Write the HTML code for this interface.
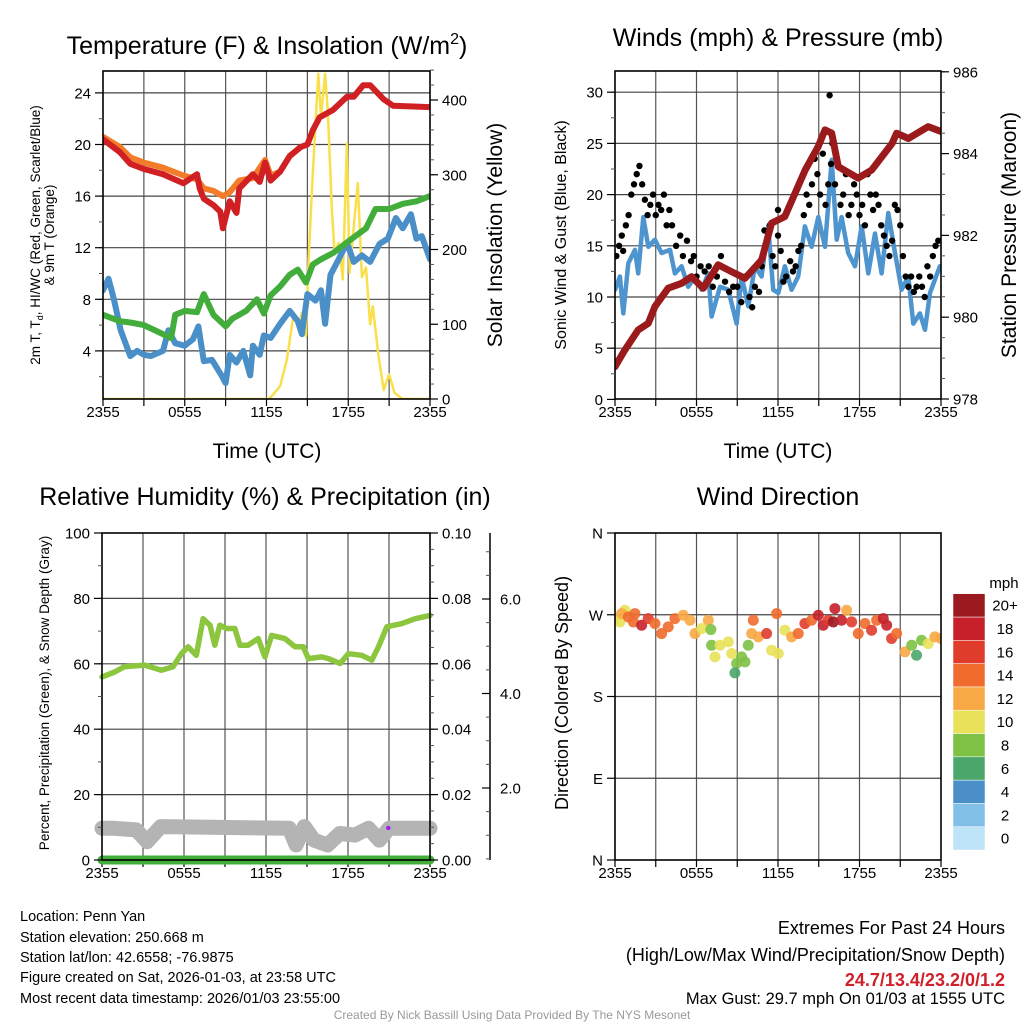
<!DOCTYPE html>
<html><head><meta charset="utf-8"><style>
html,body{margin:0;padding:0;background:#fff;}
svg{display:block;font-family:"Liberation Sans",sans-serif;}
</style></head><body>
<svg id="chart" width="1024" height="1024" viewBox="0 0 1024 1024" xmlns="http://www.w3.org/2000/svg">
<defs>
<clipPath id="c1"><rect x="103" y="71" width="327" height="328"/></clipPath>
<clipPath id="c2"><rect x="615" y="71" width="326" height="328"/></clipPath>
<clipPath id="c3"><rect x="94" y="533" width="344" height="336"/></clipPath>
<clipPath id="c4"><rect x="615" y="533" width="326" height="327"/></clipPath>
</defs>
<text x="267" y="54" font-size="25" text-anchor="middle">Temperature (F) &amp; Insolation (W/m<tspan font-size="16" dy="-10">2</tspan><tspan dy="10">)</tspan></text>
<text x="778" y="46" font-size="25" text-anchor="middle">Winds (mph) &amp; Pressure (mb)</text>
<text x="265" y="505" font-size="25" text-anchor="middle">Relative Humidity (%) &amp; Precipitation (in)</text>
<text x="778" y="505" font-size="25" text-anchor="middle">Wind Direction</text>
<text x="267" y="458" font-size="21" text-anchor="middle">Time (UTC)</text>
<text x="778" y="458" font-size="21" text-anchor="middle">Time (UTC)</text>
<text transform="translate(40,235) rotate(-90)" font-size="13.5" text-anchor="middle">2m T, T<tspan font-size="9" dy="3">d</tspan><tspan dy="-3">, HI/WC (Red, Green, Scarlet/Blue)</tspan></text>
<text transform="translate(54,235) rotate(-90)" font-size="13.5" text-anchor="middle">&amp; 9m T (Orange)</text>
<text transform="translate(502,235) rotate(-90)" font-size="21" text-anchor="middle">Solar Insolation (Yellow)</text>
<text transform="translate(566,235) rotate(-90)" font-size="16" text-anchor="middle">Sonic Wind &amp; Gust (Blue, Black)</text>
<text transform="translate(1016,235) rotate(-90)" font-size="21" text-anchor="middle">Station Pressure (Maroon)</text>
<text transform="translate(49,693) rotate(-90)" font-size="13.5" text-anchor="middle">Percent, Precipitation (Green), &amp; Snow Depth (Gray)</text>
<text transform="translate(568,693) rotate(-90)" font-size="18" text-anchor="middle">Direction (Colored By Speed)</text>
<g font-size="14.5">
<text x="20" y="921">Location: Penn Yan</text>
<text x="20" y="942">Station elevation: 250.668 m</text>
<text x="20" y="962">Station lat/lon: 42.6558; -76.9875</text>
<text x="20" y="982">Figure created on Sat, 2026-01-03, at 23:58 UTC</text>
<text x="20" y="1003">Most recent data timestamp: 2026/01/03 23:55:00</text>
</g>
<g font-size="18" text-anchor="end">
<text x="1005" y="934">Extremes For Past 24 Hours</text>
<text x="1005" y="961">(High/Low/Max Wind/Precipitation/Snow Depth)</text>
<text x="1005" y="986" fill="#d0202a" font-weight="bold">24.7/13.4/23.2/0/1.2</text>
<text x="1005" y="1004" font-size="16.5">Max Gust: 29.7 mph On 01/03 at 1555 UTC</text>
</g>
<text x="512" y="1019" font-size="12" fill="#999" text-anchor="middle">Created By Nick Bassill Using Data Provided By The NYS Mesonet</text>
<text x="1004" y="588" font-size="15" text-anchor="middle">mph</text>
</svg>
<script>
// ---- Temperature panel data (hours since 2355) ----
const tRed=[0,1.25,2,3,4.4,5.9,6.9,7.1,7.4,8.1,8.6,8.8,9.3,9.8,10,11,11.5,11.9,12.3,13,13.7,14.5,15,15.4,15.9,16.9,17.9,18.4,19.1,19.6,20.6,21.3,24];
const red=[20.4,19.4,18.5,18.1,17.7,17.0,17.7,16.6,15.8,15.3,14.8,13.5,15.6,14.7,16.6,17.7,17.1,18.6,17.2,17.9,19.1,19.8,20.0,21.1,22.1,22.7,23.7,23.7,24.6,24.6,23.5,23.0,22.9];
const tOrange=[0,1.25,2,3,4.4,5.9,6.9,7.4,8.1,8.8,9.3,10,11,11.9,12.3,13,13.7,14.5];
const orange=[20.6,19.8,19.0,18.6,18.2,17.6,17.3,16.6,16.4,16.0,16.3,17.2,17.4,18.8,17.6,17.9,19.1,19.8];
const tGreen=[0,1.25,2,3,4.4,5,5.3,6,6.9,7.4,8.1,8.6,9,9.5,10,10.5,11.3,11.8,12.3,13,13.7,14.3,14.9,15.4,16,16.9,17.9,18.4,19.3,20,21,22,23,24];
const green=[6.8,6.3,6.2,6.0,5.3,5.0,6.8,7.1,7.0,8.4,6.8,6.3,5.9,6.5,6.8,7.1,8.0,6.9,8.3,9.0,9.9,10.3,9.3,10.7,11.1,11.6,12.4,12.8,13.5,15.0,15.0,15.4,15.6,16.0];
const tBlue=[0,0.4,0.8,1.3,2,2.5,3,3.5,4.4,4.8,5.3,6,6.6,7,7.4,8,8.7,9,9.3,9.8,10.3,10.8,11,11.5,11.8,12.3,13,13.7,14.3,14.6,15,15.6,16,16.3,16.7,17.3,17.9,18.4,19,19.6,20.3,20.9,21.5,22,22.6,23,23.4,24];
const blue=[8.7,9.6,8.0,5.6,3.6,4.0,3.7,3.6,4.0,5.6,4.6,4.4,4.9,5.9,3.2,3.3,2.1,1.5,3.7,3.1,4.0,2.1,4.4,3.7,5.2,5.0,6.1,7.1,6.3,5.3,8.4,7.9,8.7,6.1,9.9,11.1,12.4,10.9,11.4,10.9,12.3,12.7,14.3,13.5,14.6,12.7,12.9,11.1];
const tSolar=[0,12.2,13,13.5,14,14.3,14.6,14.9,15.1,15.4,15.8,16,16.3,16.5,16.8,17,17.3,17.6,17.9,18.1,18.3,18.7,19,19.3,19.6,19.8,20.2,20.6,21,21.4,22,24];
const solar=[0,0,17,53,115,97,115,84,190,302,435,378,435,386,253,195,209,160,342,169,209,289,163,176,100,124,61,12,33,8,0,0];
const tempTicks=[4,8,12,16,20,24];
const solarTicks=[0,100,200,300,400];
const timeLabels=["2355","0555","1155","1755","2355"];
// ---- Wind panel data ----
const tPres=[0,0.73,1.71,2.45,2.94,3.92,4.9,5.64,6.5,7.6,8.6,9.57,10.8,11.53,12.5,14,14.96,15.46,15.95,16.44,17.9,18.9,20.4,20.73,21.6,23.06,24];
const pres=[978.79,979.2,979.69,979.85,980.26,980.71,980.83,980.99,980.71,981.28,981.11,980.95,981.4,982.3,982.46,983.6,984.17,984.58,984.5,983.68,983.4,983.6,984.25,984.5,984.37,984.66,984.54];
const tWind=[0,0.36,0.61,0.98,1.47,1.71,2.08,2.45,2.94,3.43,4.05,4.41,4.9,5.39,5.89,6.38,6.87,7.11,7.73,8.34,8.95,9.32,9.81,10.3,10.79,11.28,11.65,12.02,12.51,13,13.49,13.98,14.47,14.97,15.46,15.95,16.32,16.68,17.17,17.67,18.16,18.65,19.14,19.63,20.12,20.61,21.1,21.59,21.96,22.45,22.82,23.19,23.92];
const wind=[10.7,12.0,8.4,13.3,14.6,12.3,17.8,14.9,15.6,14.3,14.6,12.3,13.0,11.0,12.0,10.7,12.3,8.1,11.0,10.7,7.4,12.0,9.1,13.0,12.0,16.9,10.7,10.4,13.0,10.7,12.0,16.9,14.9,17.8,14.9,23.4,15.6,17.8,14.3,13.0,16.9,12.3,16.2,12.3,18.2,14.3,10.7,12.0,7.4,8.4,6.8,10.4,13.0];
const tGust=[0.1,0.3,0.5,0.6,0.8,1.0,1.2,1.4,1.6,1.8,2.0,2.2,2.4,2.6,2.8,3.0,3.2,3.4,3.6,3.8,4.0,4.2,4.5,4.8,5.0,5.3,5.6,5.8,6.0,6.3,6.6,6.9,7.2,7.5,7.8,8.1,8.4,8.7,9.0,9.3,9.6,9.9,10.1,10.3,10.6,10.8,11.0,11.2,11.4,11.6,11.8,12.0,12.0,12.2,12.4,12.6,12.9,13.1,13.3,13.5,13.7,13.9,14.1,14.3,14.5,14.7,14.9,15.1,15.3,15.5,15.7,15.9,16.0,15.8,16.2,16.4,16.6,16.8,17.0,17.2,17.4,17.6,17.8,18.0,18.2,18.4,18.6,18.8,19.0,19.2,19.4,19.6,19.8,20.0,20.2,20.4,20.6,20.8,21.0,21.2,21.4,21.6,21.8,22.0,22.2,22.4,22.6,22.8,23.0,23.2,23.4,23.6,23.8];
const gust=[14,15,16,14.5,17,18,20,21,22,22.8,21,19.5,18,19,20,18,19,18.5,20,17,18.5,17,15,16,14,15.5,13.5,14,12,13,12.5,13,11,12,14,11.5,10.5,11,11,9.5,12,10,9,11,10.5,13,16.5,15.5,17,14,13,16,18.5,14.5,11.5,12,13.5,12.5,13,14.5,15,18,20,19,21,23.5,22,20,24,19,21,23,25,29.7,21,23,19,20,22,18,19,21,20,18,19,17,22,20,18.5,20,19,17,16,15,14,15.5,19,18.5,17,14,12,11,12,10.5,11,12,11,10,13,12,14,15,15.5];
const windTicks=[0,5,10,15,20,25,30];
const presTicks=[978,980,982,984,986];
// ---- RH panel data ----
const tRH=[0,0.92,1.65,3.12,4.34,5.2,5.81,6.3,6.9,7.4,7.9,8.25,8.62,9.1,9.72,10.09,10.7,11.43,11.92,12.41,13.39,14.12,14.73,15.1,16.08,16.56,17.42,18.03,19.01,19.74,20.23,20.84,21.94,22.92,24];
const rh=[56.0,57.5,59.1,59.6,58.0,59.1,63.1,65.2,62.6,73.8,71.8,65.7,71.8,70.8,70.8,65.7,65.7,67.7,62.1,68.7,67.7,65.2,65.2,61.6,62.1,61.6,60.1,63.1,62.6,61.1,65.2,71.3,72.3,73.8,74.8];
const tSnow=[0,0.9,2.5,3.3,4.3,8,13.7,14.2,14.8,15.5,16.5,17.4,18.5,19.5,20.3,21,24];
const snow=[9.7,9.7,9.2,5.6,10.2,10.0,9.7,4.6,10.2,6.1,4.6,8.1,7.6,9.7,6.1,9.7,9.7];
const tPrecip=[0,24];
const precip=[0,0];
const rhTicks=[0,20,40,60,80,100];
const precipTicks=["0.00","0.02","0.04","0.06","0.08","0.10"];
const snowTicks=[2,4,6];
// ---- Wind direction panel data ----
const tDir=[0,0.36,0.73,0.49,0.98,1.47,1.35,1.96,2.45,2.94,3.43,3.92,4.41,5.03,5.52,5.89,6.38,6.87,7.06,7.11,7.36,7.73,8.34,8.59,8.95,8.83,9.32,9.57,9.81,10.18,10.06,10.55,11.16,11.53,11.9,12.02,12.51,13,13.49,13.98,14.47,14.97,15.33,15.7,16.19,16.07,16.68,17.05,17.42,17.91,18.4,18.89,19.26,19.75,20,20.36,20.73,21.35,21.84,22.2,22.57,23.06,23.55,24];
const dir=[265.8,262.1,274.9,271.3,267.6,271.3,262.1,258.4,265.8,260.3,249.3,256.6,265.8,269.4,263.9,249.3,254.8,263.9,253.7,236.4,223.6,236.4,240.1,227.3,216.3,206,223.6,218.1,236.4,263.9,249.3,245.6,249.3,230.9,271.3,227.3,252.9,245.6,249.3,260.3,263.9,269.4,258.4,263.9,276.8,262.1,263.9,274.9,262.1,249.3,260.3,252.9,263.9,265.8,258.4,243.8,249.3,229.1,236.4,225.4,241.9,238.2,245.6,243.8];
const spd=[10,10,10,12,14,14,14,18,16,14,14,14,14,12,12,12,10,12,8,8,10,10,10,10,8,6,8,8,8,14,12,12,16,10,14,10,10,12,14,16,14,18,18,16,18,20,18,12,16,14,14,16,14,18,18,16,14,12,8,6,8,10,12,12];
const dirTicks=["N","E","S","W","N"];
const cbLabels=["0","2","4","6","8","10","12","14","16","18","20+"];
const cbColors=["#bde4f7","#82bfe6","#4a8fc7","#4aa66a","#7dc145","#e8e159","#f7a945","#ef6b2e","#e03c2b","#c6202b","#9a1a1f"];

const NS="http://www.w3.org/2000/svg";
const svg=document.getElementById('chart');
function mk(tag,attrs,parent){const e=document.createElementNS(NS,tag);for(const k in attrs)e.setAttribute(k,attrs[k]);(parent||svg).appendChild(e);return e;}
function grp(clip){const g=mk('g',clip?{'clip-path':'url(#'+clip+')'}:{});return g;}

function linear(d0,d1,r0,r1){return v=>r0+(v-d0)*(r1-r0)/(d1-d0);}
const P=[
 {x0:103,x1:430,y0:71,y1:399,clip:'c1'},
 {x0:615,x1:941,y0:71,y1:399,clip:'c2'},
 {x0:102,x1:430,y0:533,y1:860,clip:'c3'},
 {x0:615,x1:941,y0:533,y1:860,clip:'c4'}];
P.forEach(p=>{p.x=linear(0,24,p.x0,p.x1);});
const y1L=linear(0,24,402.5,402.5-24*12.9), y1R=linear(0,400,399,100);
const y2L=linear(0,30,399.4,399.4-300*1.024), y2R=linear(978,986,399,71.8);
const y3L=linear(0,100,860,533), y3R=linear(0,0.1,860,533), y3S=linear(2,6,788,599);
const y4=linear(0,360,860,533);

function frame(p,name,hGrid){
  const g=grp();
  
  
  for(let h=3;h<24;h+=3){const l=mk('line',{x1:p.x(h),x2:p.x(h),y1:p.y0,y2:p.y1,stroke:'#555','stroke-width':1.2},g);
    
    }
  hGrid.forEach(y=>{const l=mk('line',{x1:p.x0,x2:p.x1,y1:y,y2:y,stroke:'#444','stroke-width':1.2},g);
    
    });
  for(let h=0;h<=24;h+=3){const t=mk('line',{x1:p.x(h),x2:p.x(h),y1:p.y1,y2:p.y1+7,stroke:'#000','stroke-width':1.2},g);
    
    }
  timeLabels.forEach((s,i)=>{const t=mk('text',{x:p.x(i*6),y:p.y1+18,'font-size':15,'text-anchor':'middle'},g);t.textContent=s;
    
    });
}
function border(p,name){const r=mk('rect',{x:p.x0,y:p.y0,width:p.x1-p.x0,height:p.y1-p.y0,fill:'none',stroke:'#000','stroke-width':1.6});
  
  }
function yAxis(x,ticks,scale,labels,side,name,minor){
  const g=grp();
  
  
  const dir=side==='left'?-1:1;
  (minor||[]).forEach(v=>{const l=mk('line',{x1:x,x2:x+dir*4,y1:scale(v),y2:scale(v),stroke:'#555','stroke-width':1},g);
    
    });
  ticks.forEach((v,i)=>{const y=scale(v);
    const l=mk('line',{x1:x,x2:x+dir*8,y1:y,y2:y,stroke:'#000','stroke-width':1.2},g);
    
    
    const t=mk('text',{x:x+dir*12,y:y+5.5,'font-size':15,'text-anchor':side==='left'?'end':'start'},g);t.textContent=labels[i];
    
    });
}
function path(p,ts,vs,ys,style,name){
  const g=grp(p.clip);
  const d=ts.map((t,i)=>(i?'L':'M')+p.x(t).toFixed(1)+','+ys(vs[i]).toFixed(1)).join('');
  const e=mk('path',Object.assign({d:d,fill:'none','stroke-linejoin':'round','stroke-linecap':'round'},style),g);
  
  
}
function range(a,b,s){const r=[];for(let v=a;v<=b+1e-9;v+=s)r.push(v);return r;}

// Panel 1
const p1=P[0];
frame(p1,'temp',tempTicks.map(y1L));
path(p1,tSolar,solar,y1R,{stroke:'#f9e04b','stroke-width':2.5},'solar-line');
path(p1,tBlue,blue,y1L,{stroke:'#4a8fc7','stroke-width':6},'dewpoint-line');
path(p1,tGreen,green,y1L,{stroke:'#43ad3c','stroke-width':6},'windchill-line');
path(p1,tOrange,orange,y1L,{stroke:'#f37c2a','stroke-width':6},'temp-9m-line');
path(p1,tRed,red,y1L,{stroke:'#d02024','stroke-width':6},'temp-2m-line');
border(p1,'temp');
yAxis(p1.x0,tempTicks,y1L,tempTicks.map(String),'left','temp-y-axis',range(2,24,2));
yAxis(p1.x1,solarTicks,y1R,solarTicks.map(String),'right','solar-y-axis',range(0,440,20));

// Panel 2
const p2=P[1];
frame(p2,'wind',windTicks.filter(v=>v>0).map(y2L));
path(p2,tWind,wind,y2L,{stroke:'#4e94cf','stroke-width':4.5},'wind-speed-line');
const gg=grp(p2.clip);


tGust.forEach((t,i)=>{const c=mk('circle',{cx:p2.x(t),cy:y2L(gust[i]),r:3.2,fill:'#000'},gg);
  
  });
path(p2,tPres,pres,y2R,{stroke:'#9b1b1c','stroke-width':7},'pressure-line');
border(p2,'wind');
yAxis(p2.x0,windTicks,y2L,windTicks.map(String),'left','wind-y-axis',range(2.5,30,2.5));
yAxis(p2.x1,presTicks,y2R,presTicks.map(String),'right','pressure-y-axis',range(978.5,986,0.5));

// Panel 3
const p3=P[2];
frame(p3,'rh',rhTicks.filter(v=>v>0&&v<100).map(y3L));
path(p3,tSnow,snow,y3L,{stroke:'#b4b4b4','stroke-width':15},'snow-depth-line');
path(p3,tPrecip,precip,y3R,{stroke:'#43ad3c','stroke-width':9},'precip-line');
path(p3,tRH,rh,y3L,{stroke:'#8cc63f','stroke-width':5.5},'rh-line');
const pd=mk('circle',{cx:p3.x(20.95),cy:y3L(9.8),r:2.2,fill:'#a020f0'});


border(p3,'rh');
yAxis(p3.x0,rhTicks,y3L,rhTicks.map(String),'left','rh-y-axis',range(10,100,10));
yAxis(p3.x1,[0,0.02,0.04,0.06,0.08,0.1],y3R,precipTicks,'right','precip-y-axis',range(0.005,0.1,0.005));
const sl=mk('line',{x1:490,x2:490,y1:533,y2:860,stroke:'#000','stroke-width':1.5});


yAxis(490,[],y3S,[],'left','snow-minor',range(0.5,7,0.5).filter(v=>y3S(v)>=533&&y3S(v)<=860));
snowTicks.forEach(v=>{const y=y3S(v);
  const l=mk('line',{x1:490,x2:482,y1:y,y2:y,stroke:'#000','stroke-width':1.2});
  
  
  const t=mk('text',{x:500,y:y+5.5,'font-size':15});t.textContent=v.toFixed(1);
  
  });

// Panel 4
const p4=P[3];
frame(p4,'dir',[90,180,270].map(y4));
function spdColor(s){return cbColors[Math.min(10,Math.max(0,Math.round(s/2)))];}
const dg=grp(p4.clip);


tDir.forEach((t,i)=>{const c=mk('circle',{cx:p4.x(t),cy:y4(dir[i]),r:5.5,fill:spdColor(spd[i]),'fill-opacity':0.9},dg);
  
  });
border(p4,'dir');
yAxis(p4.x0,[0,90,180,270,360],y4,dirTicks,'left','dir-y-axis',[]);
const cb=grp();


cbColors.forEach((c,i)=>{const y=850-(i+1)*23.3;
  const r=mk('rect',{x:953,y:y,width:32,height:23.3,fill:c,stroke:'#fff','stroke-width':0.5},cb);
  
  
  const t=mk('text',{x:1005,y:y+17,'font-size':15,'text-anchor':'middle'},cb);t.textContent=cbLabels[i];
  
  });
</script>
</body></html>
